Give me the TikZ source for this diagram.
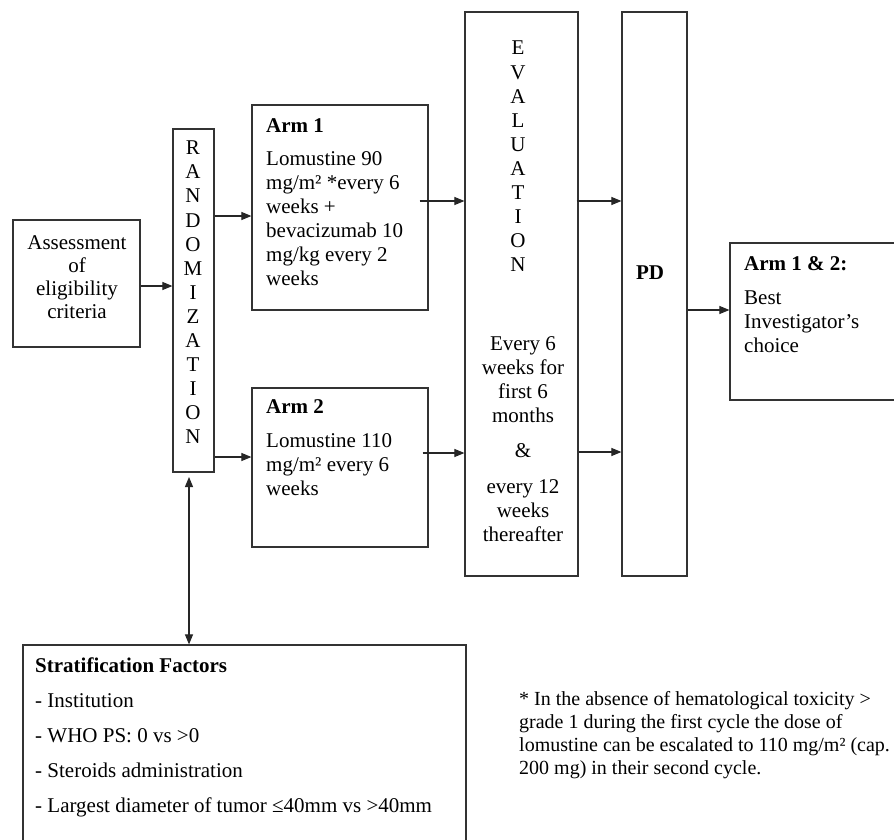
\documentclass[tikz,border=0pt]{standalone}
\usepackage{fontspec}
\setmainfont{Liberation Serif}
\usetikzlibrary{arrows.meta}
\begin{document}
\begin{tikzpicture}[x=1pt,y=-1pt,
  box/.style={draw=black!80,line width=1.2pt,inner sep=0pt,fill=none},
  txt/.style={inner sep=0pt,font=\fontsize{21}{24}\selectfont,text=black},
  tip/.tip={Triangle[length=10pt,width=8pt]},
  arr/.style={draw=black!85,line width=1.1pt,-tip},
  arrboth/.style={draw=black!85,line width=1.1pt,tip-tip}]
\useasboundingbox (0,0) rectangle (894,840);
\fill[white] (0,0) rectangle (894,840);
% boxes
\node[box,minimum width=127pt,minimum height=127pt] (assess) at (76.5,283.5) {};
\node[box,minimum width=41pt,minimum height=343pt] (rand) at (193.5,300.5) {};
\node[box,minimum width=176pt,minimum height=205pt] (arm1) at (340,207.5) {};
\node[box,minimum width=176pt,minimum height=159pt] (arm2) at (340,467.5) {};
\node[box,minimum width=113pt,minimum height=564pt] (eval) at (521.5,294) {};
\node[box,minimum width=65pt,minimum height=564pt] (pd) at (654.5,294) {};
\node[box,minimum width=175pt,minimum height=157pt] (arm12) at (817.5,321.5) {};
\node[box,minimum width=443pt,minimum height=215pt] (strat) at (244.5,752.5) {};
% texts
\node[txt,anchor=north,align=center,font=\fontsize{21}{23}\selectfont] (assesst) at (77,235)
  {Assessment\\of\\eligibility\\criteria};
\node[txt,anchor=center,align=center,font=\fontsize{21}{24.1}\selectfont] (randt) at (193,292.5)
  {R\\A\\N\\D\\O\\M\\I\\Z\\A\\T\\I\\O\\N};
\node[txt,anchor=north west,align=left] (arm1t) at (266,118)
  {\textbf{Arm 1}\\[9pt]Lomustine 90\\mg/m² *every 6\\weeks +\\bevacizumab 10\\mg/kg every 2\\weeks};
\node[txt,anchor=north west,align=left] (arm2t) at (266,399)
  {\textbf{Arm 2}\\[10pt]Lomustine 110\\mg/m² every 6\\weeks};
\node[txt,anchor=center,align=center,font=\fontsize{21}{24.1}\selectfont] (evalt) at (518,156.5)
  {E\\V\\A\\L\\U\\A\\T\\I\\O\\N};
\node[txt,anchor=north,align=center] (evalt2) at (523,336)
  {Every 6\\weeks for\\first 6\\months\\[11pt]\&\\[12pt]every 12\\weeks\\thereafter};
\node[txt,anchor=center,font=\fontsize{21}{24}\selectfont\bfseries] (pdt) at (650,273) {PD};
\node[txt,anchor=north west,align=left] (arm12t) at (744,256)
  {\textbf{Arm 1 \& 2:}\\[10pt]Best\\Investigator{\char"27}s\\choice};
\node[txt,anchor=north west,align=left,font=\fontsize{21}{35}\selectfont] (stratt) at (35,658)
  {\textbf{Stratification Factors}\\- Institution\\- WHO PS: 0 vs >0\\- Steroids administration\\- Largest diameter of tumor ≤40mm vs >40mm};
\node[txt,anchor=north west,align=left,font=\fontsize{20}{23}\selectfont] (foot) at (519,691)
  {* In the absence of hematological toxicity >\\grade 1 during the first cycle the dose of\\lomustine can be escalated to 110 mg/m² (cap.\\200 mg) in their second cycle.};
% connectors
\draw[arr] (assess.east |- 0,286) -- (rand.west |- 0,286);
\draw[arr] (rand.east |- 0,216) -- (arm1.west |- 0,216);
\draw[arr] (rand.east |- 0,457) -- (arm2.west |- 0,457);
\draw[arr] ([xshift=-9pt]arm1.east |- 0,201) -- (eval.west |- 0,201);
\draw[arr] ([xshift=-6pt]arm2.east |- 0,453) -- (eval.west |- 0,453);
\draw[arr] ([xshift=-2pt]eval.east |- 0,201) -- (pd.west |- 0,201);
\draw[arr] (eval.east |- 0,452) -- (pd.west |- 0,452);
\draw[arr] (pd.east |- 0,310) -- (arm12.west |- 0,310);
\coordinate (vtop) at (189,477);
\draw[arrboth] (vtop) -- (strat.north -| vtop);
\end{tikzpicture}
\end{document}
